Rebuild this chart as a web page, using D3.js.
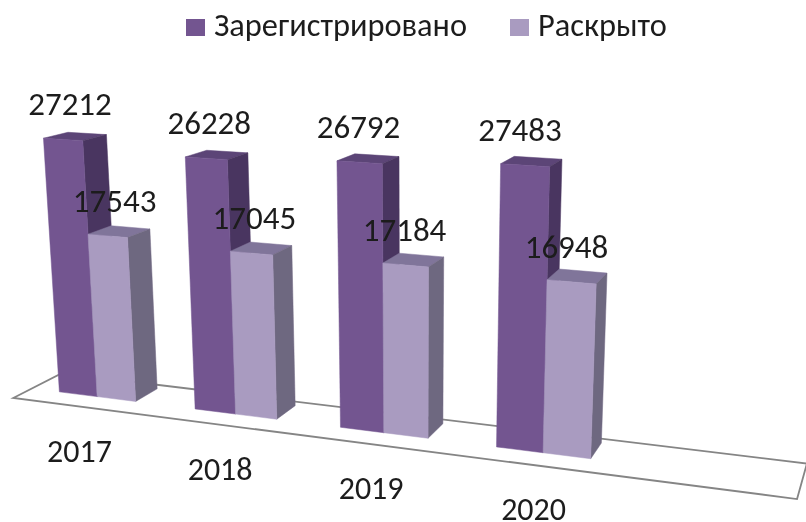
<!DOCTYPE html>
<html>
<head>
<meta charset="utf-8">
<script src="https://cdnjs.cloudflare.com/ajax/libs/d3/7.8.5/d3.min.js"></script>
<style>
    html, body { margin: 0; background: #fff; }
    text { fill: #1c1c1c; font-family: Carlito, Lato, "Open Sans", sans-serif; }
</style>
</head>
<body>
<svg id="canvas"></svg>
<script>
var w = 806
var h = 522

// ########## Data ##########
var years = ["2017", "2018", "2019", "2020"];
var seriesNames = ["Зарегистрировано", "Раскрыто"];
var registered = [27212, 26228, 26792, 27483];
var solved = [17543, 17045, 17184, 16948];

var seriesValues = [registered, solved];
var faceColors = [
    { front: "#735590", side: "#4a3660", top: "#5c4577" },
    { front: "#a99bc0", side: "#6e6780", top: "#80759a" }
];

// ########## Camera ##########
// fitted from the bar corners of the reference: world u (categories), v (depth), z (value)
var cam = [129.2829036, 25.2314377, -6.5448976, 59.4004747,
           3.5590832, -2.2009287, -95.3887695, 391.8654225,
           -0.0330792, 0.0263054, -0.0157593];

function project(u, v, z) {
    var d = cam[8] * u + cam[9] * v + cam[10] * z + 1;
    return [(cam[0] * u + cam[1] * v + cam[2] * z + cam[3]) / d,
            (cam[4] * u + cam[5] * v + cam[6] * z + cam[7]) / d];
}

// ########## Scales ##########
var x = d3.scalePoint().domain(years).range([0, 3]);
var barWidth = 0.57;
var xSeries = d3.scaleBand().domain(seriesNames).range([0, barWidth]);
var z = d3.scaleLinear().domain([0, 10000]).range([0, 1]);
var depth = d3.scaleLinear().domain([0, 1]).range([0, 1]);
// value labels drift left of their bars from the first year to the last
var labelDx = d3.scaleLinear().domain([0, 3]).range([7, -5]);

var svg = d3.select("#canvas")
    .attr("width", w)
    .attr("height", h)
    .style("display", "block");

svg.append("defs").append("filter")
    .attr("id", "soft")
    .append("feGaussianBlur")
    .attr("stdDeviation", 0.5);

var chart = svg.append("g").attr("filter", "url(#soft)");
var line = d3.line();

function face(points, fill) {
    chart.append("path")
        .attr("d", line(points.map(function (p) { return project(p[0], p[1], p[2]); })) + "Z")
        .attr("fill", fill)
        .attr("stroke", fill)
        .attr("stroke-width", 0.5);
}

// ########## Floor ##########
var floorU = [-0.21, 4.76];
var floorV = [-0.76, 1.27];

chart.append("path")
    .attr("d", line([
        project(floorU[0], floorV[0], 0),
        project(floorU[0], floorV[1], 0),
        project(floorU[1], floorV[1], 0),
        project(floorU[1], floorV[0], 0)
    ]) + "Z")
    .attr("fill", "none")
    .attr("stroke", "#858585")
    .attr("stroke-width", 1.8);

// ########## Bars ##########
years.forEach(function (year, i) {
    seriesNames.forEach(function (name, s) {
        var u0 = x(year) + xSeries(name);
        var u1 = u0 + xSeries.bandwidth();
        var top = z(seriesValues[s][i]);
        var v0 = depth(0), v1 = depth(1);
        var c = faceColors[s];

        face([[u0, v1, top], [u1, v1, top], [u1, v0, top], [u0, v0, top]], c.top);
        face([[u1, v0, 0], [u1, v1, 0], [u1, v1, top], [u1, v0, top]], c.side);
        face([[u0, v0, 0], [u1, v0, 0], [u1, v0, top], [u0, v0, top]], c.front);
    });
});

// ########## Labels ##########
years.forEach(function (year, i) {
    seriesNames.forEach(function (name, s) {
        var p = project(x(year) + xSeries(name) + xSeries.bandwidth() / 2, 0, z(seriesValues[s][i]));
        chart.append("text")
            .attr("x", p[0] + labelDx(i))
            .attr("y", p[1] - 24)
            .attr("text-anchor", "middle")
            .attr("font-size", 33)
            .text(seriesValues[s][i]);
    });

    var b = project(x(year) + xSeries.bandwidth(), floorV[0], 0);
    chart.append("text")
        .attr("x", b[0])
        .attr("y", b[1] + 55)
        .attr("text-anchor", "middle")
        .attr("font-size", 32)
        .text(year);
});

// ########## Legend ##########
var legendX = d3.scaleOrdinal().domain(seriesNames).range([186, 510]);

seriesNames.forEach(function (name, s) {
    chart.append("rect")
        .attr("x", legendX(name))
        .attr("y", 19)
        .attr("width", 19)
        .attr("height", 17)
        .attr("fill", faceColors[s].front);

    chart.append("text")
        .attr("x", legendX(name) + 28)
        .attr("y", 36)
        .attr("font-size", 32.4)
        .text(name);
});
</script>
</body>
</html>
